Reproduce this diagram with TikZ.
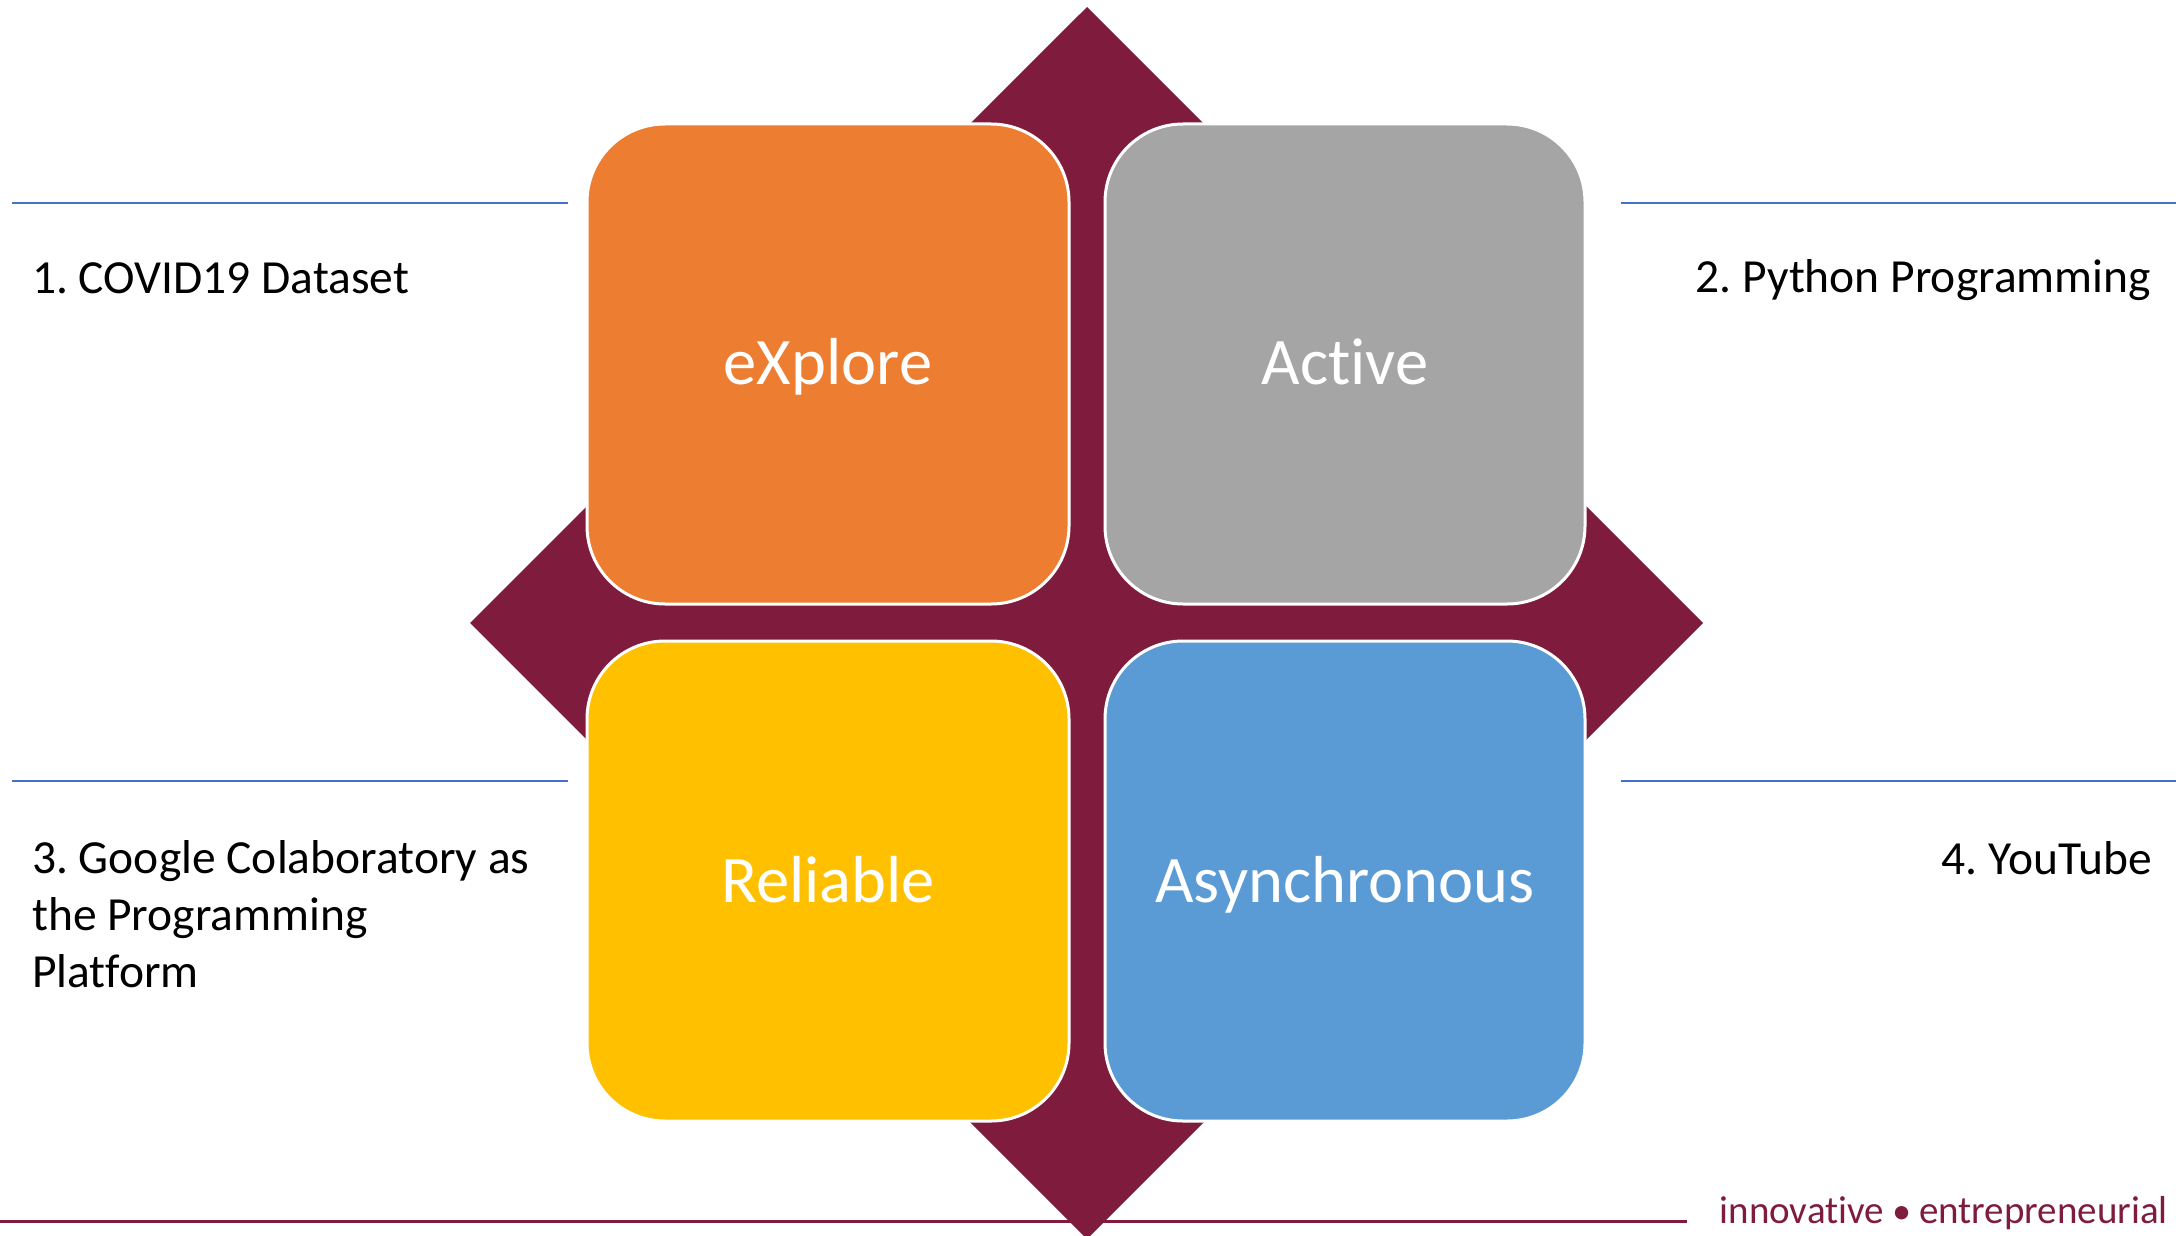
\documentclass[tikz,border=0pt]{standalone}
\usepackage{fontspec}
\setmainfont[Ligatures={NoCommon}]{Carlito}
\frenchspacing
\definecolor{maroon}{HTML}{7F1C3E}
\definecolor{borange}{HTML}{ED7D31}
\definecolor{bgray}{HTML}{A5A5A5}
\definecolor{byellow}{HTML}{FFC000}
\definecolor{bblue}{HTML}{5B9BD5}
\definecolor{rule}{HTML}{4472C4}
\begin{document}
\begin{tikzpicture}[x=1pt,y=-1pt,
  quad/.style={draw=white,line width=3pt,rounded corners=78pt},
  qlabel/.style={text=white,font=\fontsize{66.5}{80}\selectfont,text height=46pt,text depth=14pt},
  side/.style={text=black,font=\fontsize{47.5}{57}\selectfont\frenchspacing,inner sep=0pt},
  hrule/.style={draw=rule,line width=1.5pt}]
\useasboundingbox (0,0) rectangle (2176,1236);
\begin{scope}
\clip (0,0) rectangle (2176,1236);
\fill[maroon] (1087,7) -- (1703,623) -- (1087,1239) -- (470,623) -- cycle;
\end{scope}
\filldraw[quad,fill=borange] (587,124) rectangle (1069,604);
\filldraw[quad,fill=bgray] (1105,124) rectangle (1585,604);
\filldraw[quad,fill=byellow] (587,641) rectangle (1069,1121);
\filldraw[quad,fill=bblue] (1105,641) rectangle (1585,1121);
\node[qlabel] (ex) at (828,368) {eXplore};
\node[qlabel] (ac) at (1345,368) {Active};
\node[qlabel] (re) at (828,886) {Reliable};
\node[qlabel] (as) at (1345,886) {Asynchronous};
\coordinate (l1a) at (12,203); \coordinate (l1b) at (568,203);
\coordinate (r1a) at (1621,203); \coordinate (r1b) at (2176,203);
\coordinate (l2a) at (12,781); \coordinate (l2b) at (568,781);
\coordinate (r2a) at (1621,781); \coordinate (r2b) at (2176,781);
\draw[hrule] (l1a) -- (l1b);
\draw[hrule] (r1a) -- (r1b);
\draw[hrule] (l2a) -- (l2b);
\draw[hrule] (r2a) -- (r2b);
\node[side,anchor=west] (t1) at (32,278) {1. COVID19 Dataset};
\node[side,anchor=east] (t2) at (2151,280) {2. Python Programming};
\node[side,anchor=north west,align=left] (t3) at (32,840) {3. Google Colaboratory as\\the Programming\\Platform};
\node[side,anchor=east] (t4) at (2152,858) {4. YouTube};
\coordinate (b1) at (0,1221); \coordinate (b2) at (1687,1221);
\draw[maroon,line width=3pt] (b1) -- (b2);
\node[text=maroon,font=\fontsize{39}{44}\selectfont,anchor=east,inner sep=0pt] (tag) at (2168,1213) {innovative \raisebox{0.12ex}{\fontsize{29}{30}\selectfont●} entrepreneurial};
\end{tikzpicture}
\end{document}
